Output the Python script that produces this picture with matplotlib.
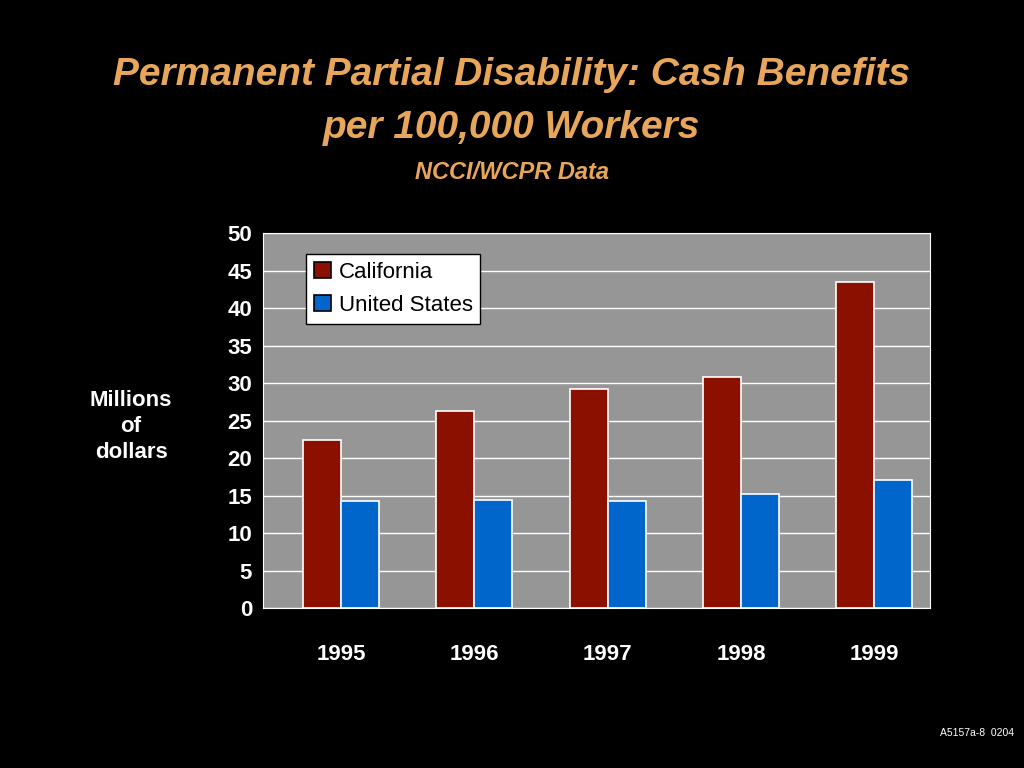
import numpy as np
import matplotlib.pyplot as plt

plt.rcParams["font.family"] = "Liberation Sans"

years = ["1995", "1996", "1997", "1998", "1999"]
california = [22.5, 26.3, 29.2, 30.8, 43.5]
united_states = [14.3, 14.4, 14.3, 15.2, 17.1]

fig = plt.figure(figsize=(10.24, 7.68), dpi=100, facecolor="black")
ax = fig.add_axes([0.257, 0.208, 0.651, 0.488], facecolor="#969696")

x = np.arange(len(years))
w = 0.285
ax.bar(x - w/2, california, w, color="#8b1000", edgecolor="white", linewidth=1.2, label="California", zorder=3)
ax.bar(x + w/2, united_states, w, color="#0066cc", edgecolor="white", linewidth=1.2, label="United States", zorder=3)

ax.set_xlim(-0.585, len(years) - 0.585)
ax.set_ylim(0, 50)
ax.set_yticks(range(0, 51, 5))
ax.yaxis.grid(True, color="white", linewidth=1, zorder=0)
ax.set_xticks(x)
ax.set_xticklabels(years)
for s in ax.spines.values():
    s.set_color("white")
ax.tick_params(colors="white", labelsize=16, length=0, pad=8)
ax.tick_params(axis="x", pad=26)
for t in ax.get_xticklabels() + ax.get_yticklabels():
    t.set_color("white")
    t.set_fontweight("bold")

leg = ax.legend(loc="upper left", bbox_to_anchor=(0.065, 0.945), fontsize=16,
                frameon=True, fancybox=False, handlelength=0.75, handleheight=0.75,
                handletextpad=0.35, borderpad=0.35, labelspacing=0.55,
                borderaxespad=0)
leg.get_frame().set_facecolor("white")
leg.get_frame().set_edgecolor("black")
leg.get_frame().set_alpha(1)
for h in leg.legend_handles:
    h.set_edgecolor("black")

fig.text(0.5, 0.902, "Permanent Partial Disability: Cash Benefits",
         ha="center", va="center", color="#e8a65a", fontsize=28, fontweight="bold",
         fontstyle="italic")
fig.text(0.5, 0.833, "per 100,000 Workers",
         ha="center", va="center", color="#e8a65a", fontsize=28, fontweight="bold",
         fontstyle="italic")
fig.text(0.5, 0.776, "NCCI/WCPR Data", ha="center", va="center", color="#e8a65a",
         fontsize=17, fontweight="bold", fontstyle="italic")
fig.text(0.128, 0.445, "Millions\nof\ndollars", ha="center", va="center", color="white",
         fontsize=16, fontweight="bold", linespacing=1.3)
fig.text(0.99, 0.045, "A5157a-8  0204", ha="right", va="center", color="white", fontsize=7.5)

fig.savefig("out.png", dpi=100, facecolor="black")
